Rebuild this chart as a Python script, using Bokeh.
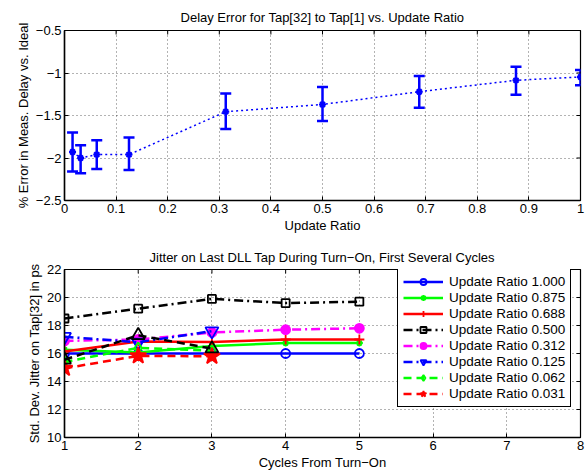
import math
from bokeh.plotting import figure
from bokeh.layouts import column
from bokeh.models import (ColumnDataSource, Whisker, TeeHead, FixedTicker, Legend,
                          LegendItem, Range1d)
from bokeh.embed import file_html
from bokeh.resources import INLINE

# ---- top chart data ----
ratio = [0.0156, 0.03125, 0.0625, 0.125, 0.3125, 0.5, 0.6875, 0.875, 1.0]
err_mean = [-1.93, -2.00, -1.96, -1.96, -1.455, -1.37, -1.22, -1.086, -1.047]
err_upper = [-1.70, -1.85, -1.79, -1.76, -1.24, -1.165, -1.035, -0.925, -0.965]
err_lower = [-2.16, -2.18, -2.13, -2.14, -1.66, -1.565, -1.41, -1.255, -1.145]

top_xticks = [0, 0.1, 0.2, 0.3, 0.4, 0.5, 0.6, 0.7, 0.8, 0.9, 1.0]
top_yticks = [-2.5, -2.0, -1.5, -1.0, -0.5]

# ---- bottom chart data ----
cycles5 = [1, 2, 3, 4, 5]
cycles3 = [1, 2, 3]
r1000 = [16.0, 16.0, 16.0, 16.0, 16.0]
r0875 = [16.26, 16.07, 16.54, 16.75, 16.75]
r0688 = [16.14, 16.85, 16.82, 17.0, 17.0]
r0500 = [18.5, 19.2, 19.9, 19.6, 19.7]
r0312 = [16.9, 17.0, 17.5, 17.7, 17.8]
r0125 = [17.2, 16.8, 17.6]
r0062 = [15.4, 16.4, 16.2]
r0031 = [14.94, 15.83, 15.8]
r_extra = [15.55, 17.3, 16.35]
labels = ["Update Ratio 1.000", "Update Ratio 0.875", "Update Ratio 0.688",
          "Update Ratio 0.500", "Update Ratio 0.312", "Update Ratio 0.125",
          "Update Ratio 0.062", "Update Ratio 0.031"]
bot_xticks = [1, 2, 3, 4, 5, 6, 7, 8]
bot_yticks = [10, 12, 14, 16, 18, 20, 22]

FONT = "Liberation Sans"
FS = "13px"


def fmt(v):
    s = ("%g" % v)
    return s.replace("-", "\u2212")


def style(p, xticks, yticks, xlabel, ylabel):
    p.outline_line_color = "black"
    p.outline_line_width = 1.2
    p.outline_line_alpha = 1
    xa, ya = p.xaxis[0], p.yaxis[0]
    for ax in (xa, ya):
        ax.major_tick_in = 4
        ax.major_tick_out = 0
        ax.minor_tick_in = 0
        ax.minor_tick_out = 0
        ax.axis_line_color = "black"
        ax.axis_line_width = 1.5
        ax.major_tick_line_color = "black"
        ax.major_label_text_font = FONT
        ax.major_label_text_font_size = FS
        ax.major_label_text_color = "black"
        ax.axis_label_text_font = FONT
        ax.axis_label_text_font_size = FS
        ax.axis_label_text_font_style = "normal"
        ax.axis_label_text_color = "black"
        ax.major_label_standoff = 3
        ax.axis_label_standoff = 2
    xa.axis_label = xlabel
    ya.axis_label = ylabel
    xa.ticker = FixedTicker(ticks=xticks)
    ya.ticker = FixedTicker(ticks=yticks)
    xa.major_label_overrides = {t: fmt(t) for t in xticks}
    ya.major_label_overrides = {t: fmt(t) for t in yticks}
    p.xgrid.ticker = FixedTicker(ticks=xticks)
    p.ygrid.ticker = FixedTicker(ticks=yticks)
    for g in (p.xgrid, p.ygrid):
        g.grid_line_color = "black"
        g.grid_line_alpha = 0.6
        g.grid_line_dash = "1 3"
        g.grid_line_width = 1
    p.title.text_font = FONT
    p.title.text_font_size = FS
    p.title.text_font_style = "normal"
    p.title.align = "center"
    p.title.text_color = "black"
    p.background_fill_color = "white"
    p.border_fill_color = "white"
    # inward tick marks on the top and right edges of the box (clipped to frame)
    xmax = p.x_range.end
    ymax = p.y_range.end
    p.scatter(xticks, [ymax] * len(xticks), marker="dash", angle=math.pi / 2,
              size=8, line_color="black", line_width=1)
    p.scatter([xmax] * len(yticks), yticks, marker="dash", size=8,
              line_color="black", line_width=1)


# ---------------- top figure ----------------
top = figure(width=585, height=237, frame_width=516, frame_height=170,
             x_range=Range1d(0, 1), y_range=Range1d(-2.5, -0.5),
             output_backend="svg", toolbar_location=None,
             title="Delay Error for Tap[32] to Tap[1] vs. Update Ratio",
             min_border_left=64, min_border_right=5, min_border_top=30,
             min_border_bottom=37)
style(top, top_xticks, top_yticks, "Update Ratio", "% Error in Meas. Delay vs. Ideal")
top.title.standoff = 11

src = ColumnDataSource(dict(x=ratio, y=err_mean, up=err_upper, lo=err_lower))
top.line("x", "y", source=src, line_color="#0000ff", line_width=1.5, line_dash="2 3")
wh = Whisker(source=src, base="x", upper="up", lower="lo", line_color="#0000ff",
             line_width=2.5,
             upper_head=TeeHead(size=11, line_color="#0000ff", line_width=2.5),
             lower_head=TeeHead(size=11, line_color="#0000ff", line_width=2.5))
top.add_layout(wh)
top.scatter("x", "y", source=src, marker="asterisk", size=7, line_color="#0000ff",
            line_width=2)

# ---------------- bottom figure ----------------
bot = figure(width=585, height=237, frame_width=516, frame_height=168,
             x_range=Range1d(1, 8), y_range=Range1d(10, 22),
             output_backend="svg", toolbar_location=None,
             title="Jitter on Last DLL Tap During Turn\u2212On, First Several Cycles",
             min_border_left=64, min_border_right=5, min_border_top=32,
             min_border_bottom=37)
style(bot, bot_xticks, bot_yticks, "Cycles From Turn\u2212On",
      "Std. Dev. Jitter on Tap[32] in ps")
bot.title.standoff = 9

DASHDOT = "9 4 2 4"
DASHED = "8 5"
series = [
    (cycles5, r1000, "#0000ff", "solid", "circle", 9, False, labels[0]),
    (cycles5, r0875, "#00ff00", "solid", "asterisk", 7, False, labels[1]),
    (cycles5, r0688, "#ff0000", "solid", "cross", 10, False, labels[2]),
    (cycles5, r0500, "#000000", DASHDOT, "square", 8, False, labels[3]),
    (cycles5, r0312, "#ff00ff", DASHDOT, "circle", 9, True, labels[4]),
    (cycles3, r0125, "#0000ff", DASHDOT, "inverted_triangle", 13, False, labels[5]),
    (cycles3, r0062, "#00ff00", DASHED, "diamond", 11, False, labels[6]),
    (cycles3, r0031, "#ff0000", DASHED, "star", 17, True, labels[7]),
]
items = []
for xs, ys, col, dash, mk, sz, filled, lab in series:
    ln = bot.line(xs, ys, line_color=col, line_width=2.5, line_dash=dash)
    sc = bot.scatter(xs, ys, marker=mk, size=sz, line_color=col, line_width=1.8,
                     fill_color=col if filled else None)
    items.append(LegendItem(label=lab, renderers=[ln, sc]))

# series drawn in the chart without a legend entry
bot.line(cycles3, r_extra, line_color="black", line_width=2.5, line_dash=DASHED)
bot.scatter(cycles3, r_extra, marker="triangle", size=13, line_color="black",
            line_width=1.8, fill_color=None)

legend = Legend(items=items, location=(333, 30))
legend.label_text_font = FONT
legend.label_text_font_size = "13.5px"
legend.label_text_color = "black"
legend.border_line_color = "black"
legend.border_line_width = 1.2
legend.border_line_alpha = 1
legend.background_fill_color = "white"
legend.background_fill_alpha = 1
legend.glyph_width = 40
legend.glyph_height = 15
legend.label_height = 15
legend.spacing = 1
legend.padding = 5
legend.margin = 0
legend.label_standoff = 6
bot.add_layout(legend)

lay = column(top, bot, spacing=0)
open("out.html", "w").write(file_html(lay, INLINE))
